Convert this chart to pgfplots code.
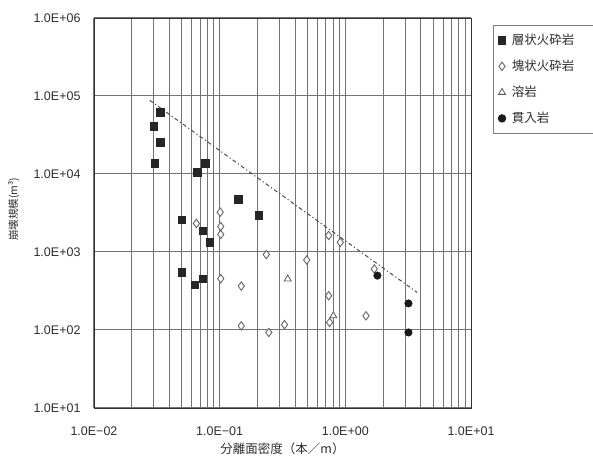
\documentclass[border=0pt]{standalone}
\usepackage{fontspec}
\setmainfont{Liberation Sans}
\newfontfamily\cjk{Noto Sans CJK JP}
\usepackage{pgfplots}
\pgfplotsset{compat=1.18}
\definecolor{txt}{gray}{0.18}
\definecolor{gridc}{gray}{0.45}
\begin{document}
\begin{tikzpicture}
\useasboundingbox (-94pt,-49pt) rectangle (499pt,408pt);
\begin{axis}[
  at={(0pt,0pt)}, anchor=south west,
  scale only axis, width=377pt, height=390pt,
  xmode=log, ymode=log,
  xmin=0.01, xmax=10, ymin=10, ymax=1e6,
  xtick={0.01,0.1,1,10},
  xticklabels={1.0E−02,1.0E−01,1.0E+00,1.0E+01},
  minor xtick={0.02,0.03,0.04,0.05,0.06,0.07,0.08,0.09,0.2,0.3,0.4,0.5,0.6,0.7,0.8,0.9,2,3,4,5,6,7,8,9},
  ytick={10,100,1000,10000,100000,1000000},
  yticklabels={1.0E+01,1.0E+02,1.0E+03,1.0E+04,1.0E+05,1.0E+06},
  minor ytick={},
  major tick length=0pt, minor tick length=0pt,
  xmajorgrids, xminorgrids, ymajorgrids,
  major grid style={gridc, line width=1pt},
  minor grid style={gridc, line width=1pt},
  axis line style={black!80, line width=0.8pt},
  tick label style={font=\fontsize{12.5}{14}\selectfont, text=txt},
  xticklabel style={yshift=-15pt},
  yticklabel style={xshift=-10pt},
  xlabel={\cjk 分離面密度（本／m）},
  xlabel style={at={(axis description cs:0.5,-0.104)}, anchor=center, font=\fontsize{12.5}{14}\selectfont, text=txt},
  ylabel={\cjk 崩壊規模(m³)},
  ylabel style={at={(axis description cs:-0.213,0.51)}, anchor=center, font=\fontsize{10.5}{12}\selectfont, text=txt},
  legend style={at={(axis description cs:1.058,0.982)}, anchor=north west,
    draw=gray, line width=0.7pt, font=\cjk\fontsize{12.5}{14}\selectfont, text=txt,
    row sep=10pt, inner xsep=5pt, inner ysep=7pt, legend cell align=left,
    /tikz/every odd column/.append style={column sep=4pt},
    /tikz/every even column/.append style={text width=85pt}},
  legend image code/.code={\draw[mark repeat=2,mark phase=2,#1] plot coordinates {(0pt,0pt) (5pt,0pt) (10pt,0pt)};},
]
\addplot[black!70, line width=1pt, dash pattern=on 4pt off 2.5pt on 1.2pt off 2.5pt, forget plot]
  coordinates {(0.0278,88000) (3.73,303)};
\addplot[only marks, mark=square*, mark size=3.8pt, mark options={fill=black!85, draw=black!85}]
  coordinates {
(0.0338,62500) (0.0299,40900) (0.0338,25500) (0.0305,13800) (0.077,13800)
(0.066,10600) (0.14,4720) (0.205,2940) (0.0497,2590) (0.0733,1880)
(0.0834,1330) (0.0497,548) (0.0634,381) (0.0733,455)
};
\addlegendentry{層状火砕岩}
\addplot[only marks, mark=diamond*, mark size=4.2pt, mark options={fill=white, draw=black!60, line width=0.9pt}]
  coordinates {
(0.101,3240) (0.0653,2320) (0.102,2120) (0.102,1680) (0.102,455)
(0.1486,365) (0.235,927) (0.493,791) (0.737,1630) (0.912,1330)
(0.737,275) (0.75,125) (0.1486,113) (0.246,93) (0.328,117)
(1.70,607) (1.46,152)
};
\addlegendentry{塊状火砕岩}
\addplot[only marks, mark=triangle*, mark size=4pt, mark options={fill=white, draw=black!65, line width=0.8pt}]
  coordinates {(0.348,451) (0.803,152)};
\addlegendentry{溶岩}
\addplot[only marks, mark=*, mark size=3.8pt, mark options={fill=black!90, draw=black!90}]
  coordinates {(1.80,498) (3.18,219) (3.18,93)};
\addlegendentry{貫入岩}
\end{axis}
\end{tikzpicture}
\end{document}
